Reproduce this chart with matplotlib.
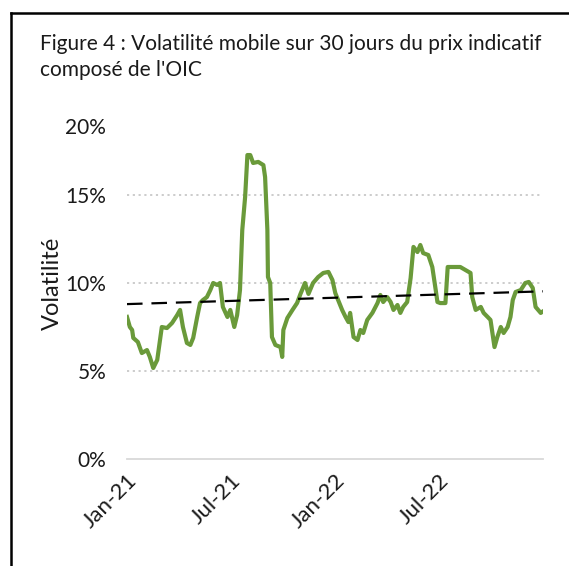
import matplotlib.pyplot as plt
from matplotlib.lines import Line2D
import numpy as np

# days since 2021-01-01 and 30-day rolling volatility (%)
days = [0, 5, 9, 11, 19, 26, 35, 40, 46, 53, 61, 70, 79, 88, 93, 98, 105, 111,
        116, 123, 128, 133, 140, 146, 151, 158, 163, 168, 176, 181, 188, 193,
        198, 202, 207, 211, 216, 221, 230, 239, 242, 246, 247, 251, 254, 260,
        269, 272, 274, 281, 290, 298, 304, 312, 318, 326, 335, 344, 353, 360,
        365, 370, 377, 383, 388, 391, 397, 404, 409, 414, 421, 430, 439, 444,
        449, 456, 462, 467, 474, 479, 484, 491, 497, 502, 509, 514, 519, 528,
        535, 541, 544, 549, 558, 562, 570, 584, 593, 602, 605, 611, 620, 625,
        632, 637, 644, 649, 655, 660, 667, 672, 676, 681, 690, 698, 704, 711,
        716, 725, 730]
volatility = [8.07, 7.50, 7.33, 6.88, 6.65, 6.02, 6.19, 5.80, 5.17, 5.63, 7.50,
              7.44, 7.73, 8.18, 8.47, 7.50, 6.59, 6.48, 6.88, 8.07, 8.86, 9.03,
              9.20, 9.60, 10.00, 9.89, 10.00, 8.64, 8.07, 8.47, 7.50, 8.18, 9.60,
              13.01, 14.89, 17.27, 17.27, 16.82, 16.88, 16.70, 16.02, 13.01,
              10.34, 10.00, 6.93, 6.48, 6.36, 5.80, 7.33, 8.01, 8.47, 8.86, 9.38,
              10.00, 9.38, 10.00, 10.34, 10.57, 10.63, 10.17, 9.43, 9.03, 8.47,
              8.07, 7.78, 8.30, 6.93, 6.76, 7.33, 7.16, 7.90, 8.30, 8.86, 9.32,
              8.92, 9.20, 8.92, 8.47, 8.75, 8.30, 8.64, 8.92, 10.28, 12.05,
              11.76, 12.16, 11.70, 11.59, 10.91, 9.60, 8.92, 8.86, 8.86, 10.91,
              10.91, 10.91, 10.74, 10.57, 9.20, 8.47, 8.64, 8.30, 8.07, 7.90,
              6.36, 6.93, 7.50, 7.16, 7.50, 8.07, 9.03, 9.49, 9.60, 10.00, 10.06,
              9.72, 8.64, 8.30, 8.41]
tick_dates = ['2021-01-01', '2021-07-01', '2022-01-01', '2022-07-01']
tick_labels = ['Jan-21', 'Jul-21', 'Jan-22', 'Jul-22']
y_ticks = [0, 5, 10, 15]
y_top = 20

title = "Figure 4 : Volatilité mobile sur 30 jours du prix indicatif\ncomposé de l'OIC"

plt.rcParams['font.family'] = ['Lato', 'DejaVu Sans']
TXT = '#1a1a1a'

dates = np.datetime64('2021-01-01') + np.array(days).astype('timedelta64[D]')
vals = np.array(volatility) / 100

fig = plt.figure(figsize=(5.69, 5.66), dpi=100)
W, H = 569, 566
ax = fig.add_axes([127 / W, 1 - 459 / H, (543 - 127) / W, (459 - 107) / H])

ax.plot(dates, vals, color='#6a9a3a', lw=3.0, solid_joinstyle='round', zorder=3)

# linear trend line (like the Excel trendline)
t = np.array(days, dtype=float)
coef = np.polyfit(t, vals, 1)
tt = np.array([0, 730])
trend_dates = np.datetime64('2021-01-01') + tt.astype('timedelta64[D]')
ax.plot(trend_dates, np.polyval(coef, tt), color='black', lw=1.6,
        dashes=(7, 4), zorder=4)

ax.set_xlim(np.datetime64('2021-01-01'), np.datetime64('2022-12-31'))
ax.set_ylim(0, y_top / 100)

for v in y_ticks[1:]:
    ax.axhline(v / 100, color='#c8c8c8', lw=1.3, ls=(0, (1.2, 2)), zorder=1)

ax.set_yticks([v / 100 for v in y_ticks])
ax.set_yticklabels([f'{v}%' for v in y_ticks], fontsize=15, color=TXT)
# the 20% label sits a bit lower than the top of the axis in the original
ax.text(-21 / 416, 0.188, f'{y_top}%', transform=ax.get_yaxis_transform(),
        ha='right', va='center', fontsize=15, color=TXT)

ax.set_xticks(np.array(tick_dates, dtype='datetime64[D]'))
ax.set_xticklabels(tick_labels, rotation=45, ha='right', rotation_mode='anchor',
                   fontsize=16, color=TXT)

ax.tick_params(axis='both', length=0)
ax.tick_params(axis='y', pad=15)
ax.tick_params(axis='x', pad=8)
for s in ['top', 'right', 'left']:
    ax.spines[s].set_visible(False)
ax.spines['bottom'].set_color('#d9d9d9')
ax.spines['bottom'].set_linewidth(1.3)

ax.set_ylabel('Volatilité', fontsize=17, color=TXT, labelpad=2)

fig.text(40 / W, 1 - 34 / H, title, fontsize=15, color=TXT,
         ha='left', va='top', linespacing=1.4)

# frame of the original figure box (only left and top sides are visible)
fig.add_artist(Line2D([11 / W, 11 / W], [0, 1 - 13 / H], transform=fig.transFigure,
                      color='black', lw=1.8))
fig.add_artist(Line2D([11 / W, 1], [1 - 13 / H, 1 - 13 / H], transform=fig.transFigure,
                      color='black', lw=1.8))

fig.savefig('out.png', dpi=100)
